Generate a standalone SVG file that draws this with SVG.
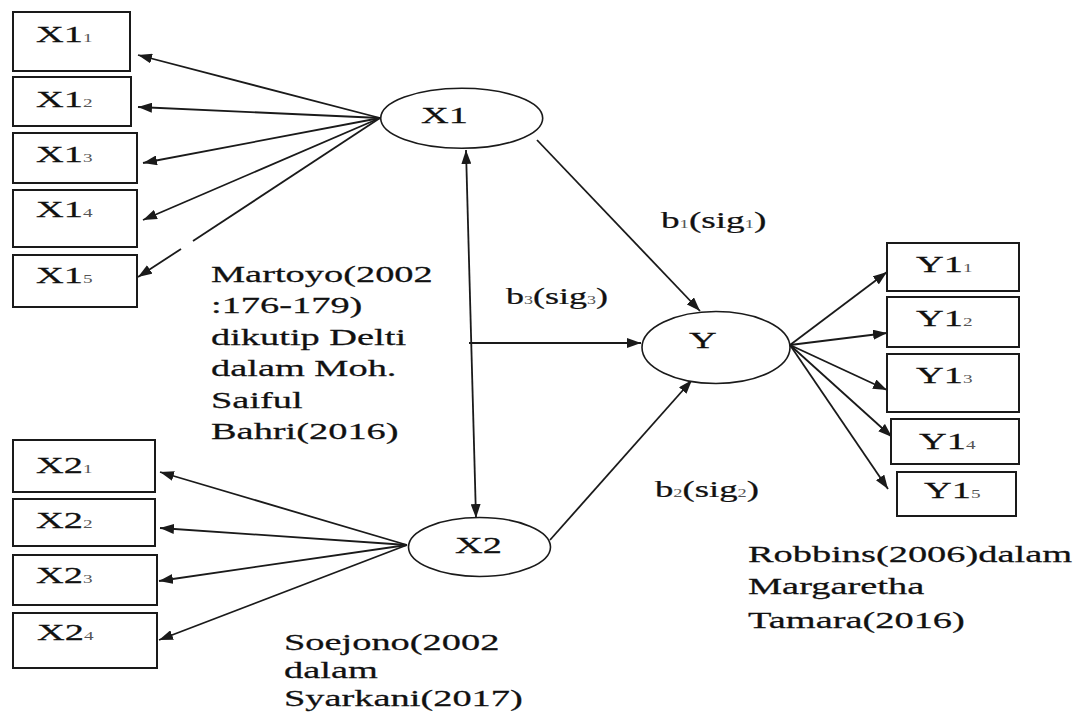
<svg xmlns="http://www.w3.org/2000/svg" width="1092" height="718" viewBox="0 0 1092 718">
<style>
.t{font-family:"Liberation Serif","Times New Roman",serif;font-size:24px;fill:#111;stroke:#111;stroke-width:0.25}
.sub{font-size:12px;fill:#555;stroke:none}
.box{fill:#fff;stroke:#1a1a1a;stroke-width:2}
.ell{fill:#fff;stroke:#1a1a1a;stroke-width:1.6}
.c{fill:none;stroke:#1a1a1a;stroke-width:1.8}
.a{marker-end:url(#ah)}
</style>
<defs>
<marker id="ah" viewBox="0 0 14 10" refX="14" refY="5" markerWidth="14" markerHeight="10" markerUnits="userSpaceOnUse" orient="auto-start-reverse">
<path d="M0,0 L14,5 L0,10 z" fill="#1a1a1a"/>
</marker>
</defs>
<rect width="1092" height="718" fill="#fff"/>

<g id="connectors">
<line class="c a" x1="380" y1="118" x2="138" y2="55"/>
<line class="c a" x1="380" y1="118" x2="138" y2="107"/>
<line class="c a" x1="380" y1="118" x2="143" y2="163"/>
<line class="c a" x1="380" y1="118" x2="143" y2="220"/>
<line class="c" x1="380" y1="118" x2="193" y2="241"/>
<line class="c a" x1="181" y1="249" x2="138" y2="277"/>
<line class="c a" x1="407" y1="545" x2="160" y2="472"/>
<line class="c a" x1="407" y1="545" x2="160" y2="528"/>
<line class="c a" x1="407" y1="545" x2="159" y2="581"/>
<line class="c a" x1="407" y1="545" x2="159" y2="640"/>
<line class="c a" x1="537" y1="140" x2="700" y2="311"/>
<line class="c a" x1="469" y1="343" x2="641" y2="343"/>
<line class="c a" x1="550" y1="540" x2="692" y2="380"/>
<line class="c a" x1="466" y1="150" x2="476" y2="518" style="marker-start:url(#ah)"/>
<line class="c a" x1="790" y1="345" x2="887" y2="272"/>
<line class="c a" x1="790" y1="345" x2="887" y2="333"/>
<line class="c a" x1="790" y1="345" x2="887" y2="390"/>
<line class="c a" x1="790" y1="345" x2="892" y2="437"/>
<line class="c a" x1="790" y1="345" x2="888" y2="489"/>
</g>

<g id="X1"><ellipse class="ell" cx="461.7" cy="118.3" rx="81" ry="30"/><text class="t" transform="translate(421,123) scale(1.6,1)">X1</text></g>
<g id="Y"><ellipse class="ell" cx="716" cy="347.5" rx="74" ry="36"/><text class="t" transform="translate(689,348) scale(1.6,1)">Y</text></g>
<g id="X2"><ellipse class="ell" cx="479.5" cy="547" rx="71" ry="29.5"/><text class="t" transform="translate(455,553) scale(1.6,1)">X2</text></g>

<g id="X1_1"><rect class="box" x="13" y="12" width="117" height="59"/><text class="t" transform="translate(36,42) scale(1.6,1)">X1<tspan class="sub">1</tspan></text></g>
<g id="X1_2"><rect class="box" x="13" y="77" width="118" height="49"/><text class="t" transform="translate(36,107) scale(1.6,1)">X1<tspan class="sub">2</tspan></text></g>
<g id="X1_3"><rect class="box" x="13" y="133" width="124" height="50"/><text class="t" transform="translate(36,162) scale(1.6,1)">X1<tspan class="sub">3</tspan></text></g>
<g id="X1_4"><rect class="box" x="13" y="190" width="124" height="57"/><text class="t" transform="translate(36,217) scale(1.6,1)">X1<tspan class="sub">4</tspan></text></g>
<g id="X1_5"><rect class="box" x="13" y="255" width="124" height="52"/><text class="t" transform="translate(36,283) scale(1.6,1)">X1<tspan class="sub">5</tspan></text></g>

<g id="X2_1"><rect class="box" x="13" y="440" width="142" height="52"/><text class="t" transform="translate(36,473) scale(1.6,1)">X2<tspan class="sub">1</tspan></text></g>
<g id="X2_2"><rect class="box" x="13" y="499" width="142" height="47"/><text class="t" transform="translate(36,528) scale(1.6,1)">X2<tspan class="sub">2</tspan></text></g>
<g id="X2_3"><rect class="box" x="13" y="555" width="144" height="50"/><text class="t" transform="translate(36,583) scale(1.6,1)">X2<tspan class="sub">3</tspan></text></g>
<g id="X2_4"><rect class="box" x="13" y="613" width="144" height="55"/><text class="t" transform="translate(37,640) scale(1.6,1)">X2<tspan class="sub">4</tspan></text></g>

<g id="Y1_1"><rect class="box" x="887" y="243" width="132" height="48"/><text class="t" transform="translate(916,272) scale(1.6,1)">Y1<tspan class="sub">1</tspan></text></g>
<g id="Y1_2"><rect class="box" x="887" y="297" width="132" height="50"/><text class="t" transform="translate(916,326) scale(1.6,1)">Y1<tspan class="sub">2</tspan></text></g>
<g id="Y1_3"><rect class="box" x="887" y="354" width="132" height="58"/><text class="t" transform="translate(916,383) scale(1.6,1)">Y1<tspan class="sub">3</tspan></text></g>
<g id="Y1_4"><rect class="box" x="891" y="419" width="128" height="45"/><text class="t" transform="translate(919,449) scale(1.6,1)">Y1<tspan class="sub">4</tspan></text></g>
<g id="Y1_5"><rect class="box" x="897" y="472" width="119" height="44"/><text class="t" transform="translate(924,498) scale(1.6,1)">Y1<tspan class="sub">5</tspan></text></g>

<g id="labels">
<text class="t" transform="translate(661,228) scale(1.55,1)">b<tspan class="sub">1</tspan>(sig<tspan class="sub">1</tspan>)</text>
<text class="t" transform="translate(506,304) scale(1.5,1)">b<tspan class="sub">3</tspan>(sig<tspan class="sub">3</tspan>)</text>
<text class="t" transform="translate(655,497) scale(1.53,1)">b<tspan class="sub">2</tspan>(sig<tspan class="sub">2</tspan>)</text>
</g>

<g id="notes">
<text class="t" transform="translate(211,282) scale(1.6,1)"><tspan x="0" y="0">Martoyo(2002</tspan><tspan x="0" y="31.4">:176-179)</tspan><tspan x="0" y="62.8">dikutip Delti</tspan><tspan x="0" y="94.2">dalam Moh.</tspan><tspan x="0" y="125.6">Saiful</tspan><tspan x="0" y="157">Bahri(2016)</tspan></text>
<text class="t" transform="translate(284,650) scale(1.6,1)"><tspan x="0" y="0">Soejono(2002</tspan><tspan x="0" y="28.5">dalam</tspan><tspan x="0" y="56">Syarkani(2017)</tspan></text>
<text class="t" transform="translate(748,562) scale(1.6,1)"><tspan x="0" y="0">Robbins(2006)dalam</tspan><tspan x="0" y="32.5">Margaretha</tspan><tspan x="0" y="66">Tamara(2016)</tspan></text>
</g>
</svg>
